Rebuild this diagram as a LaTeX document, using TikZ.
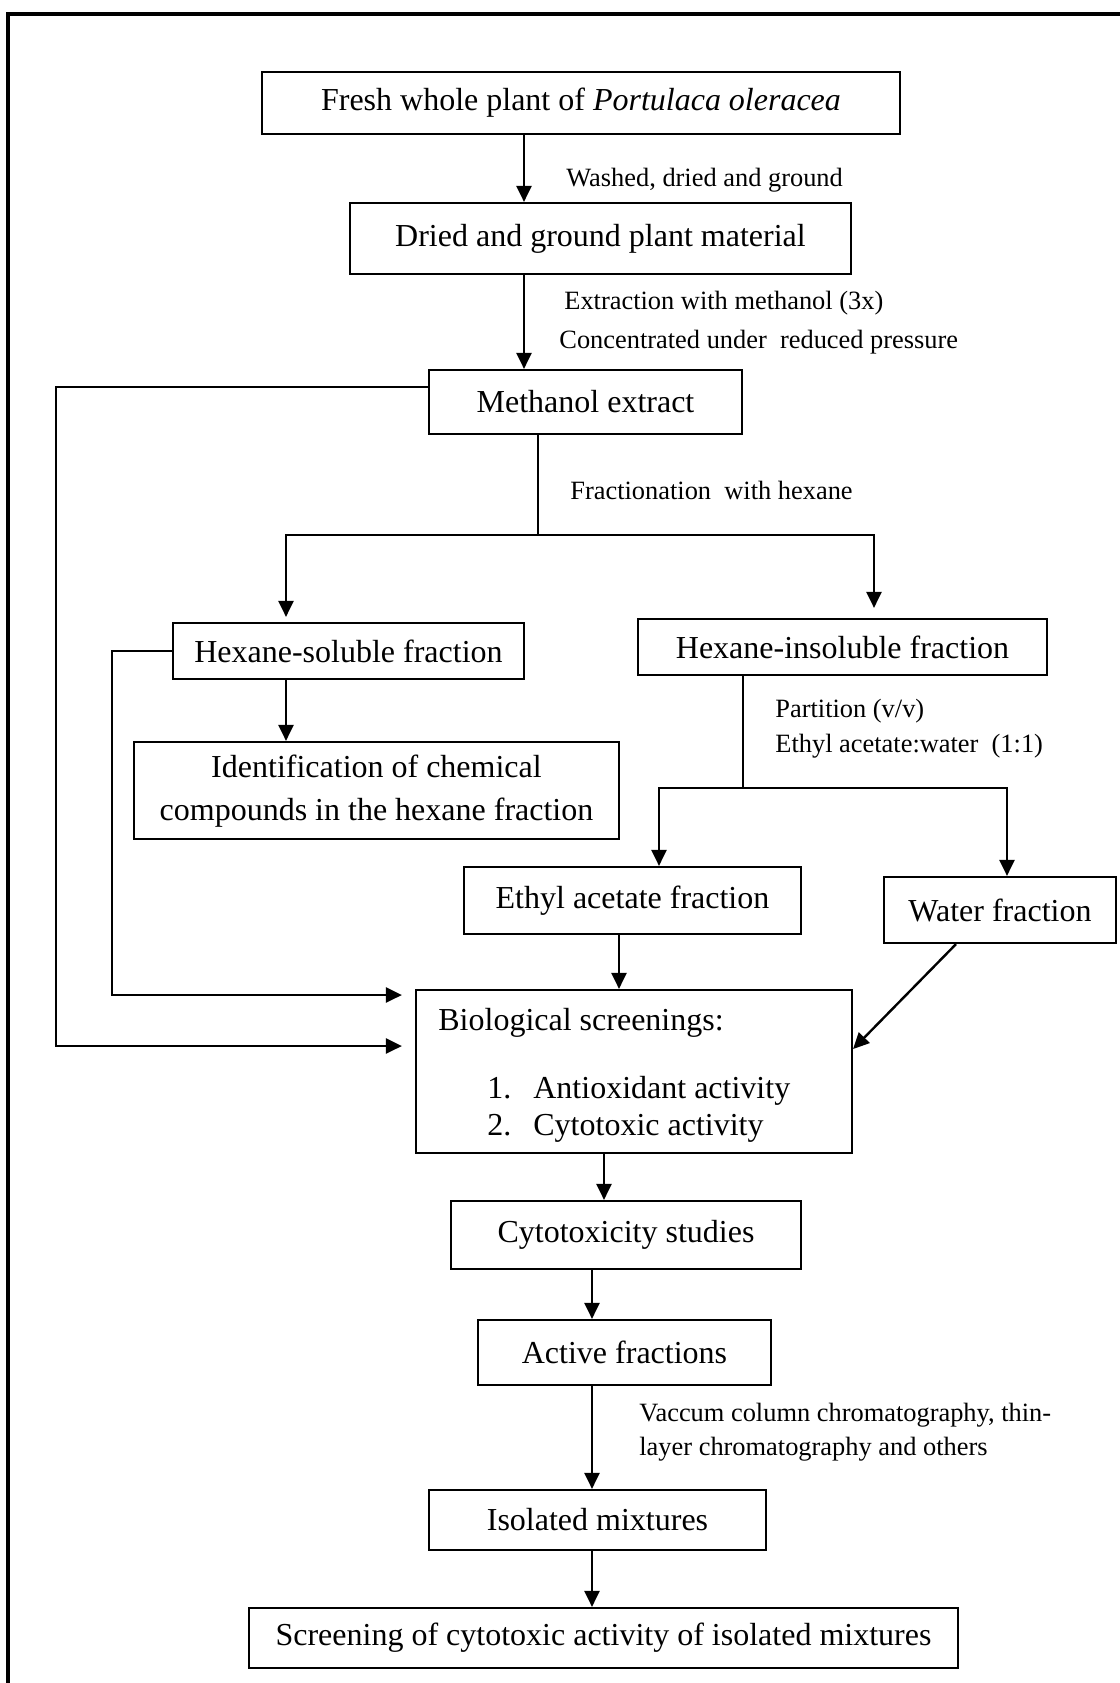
\documentclass[tikz,border=0pt]{standalone}
\usepackage{fontspec}
\setmainfont{Liberation Serif}
\usetikzlibrary{arrows.meta}

\tikzset{
  box/.style={draw, line width=1.1pt, inner sep=0pt, align=center, font=\fontsize{16}{21.5}\selectfont},
  boxtext/.style={anchor=base west, inner sep=0pt, font=\fontsize{16}{19}\selectfont},
  note/.style={anchor=base west, inner sep=0pt, font=\fontsize{13.2}{16}\selectfont},
  arr/.style={line width=1.2pt, -{Triangle[length=8pt,width=7.5pt]}},
  link/.style={line width=1.2pt},
  thinlink/.style={line width=0.7pt}
}

\begin{document}
\begin{tikzpicture}[x=0.5pt, y=-0.5pt]
  \useasboundingbox (0,0) rectangle (1120,1683);
  % page frame
  \draw[line width=1.6pt] (1120,14) -- (8,14) -- (8,1683);

  % boxes
  \node[box, minimum width=319pt, minimum height=31pt] (fresh) at (581,103) {Fresh whole plant of \textit{Portulaca oleracea}};
  \node[box, minimum width=250.5pt, minimum height=35.5pt] (dried) at (600.5,238.5) {Dried and ground plant material};
  \node[box, minimum width=156.5pt, minimum height=32pt] (methanol) at (585.5,402) {Methanol extract};
  \node[box, minimum width=175.5pt, minimum height=28pt] (hexsol) at (348.5,651) {Hexane-soluble fraction};
  \node[box, minimum width=204.5pt, minimum height=28pt] (hexinsol) at (842.5,647) {Hexane-insoluble fraction};
  \node[box, minimum width=242.5pt, minimum height=48.5pt] (ident) at (376.5,790.5) {\rule{0pt}{12pt}Identification of chemical\\compounds in the hexane fraction};
  \node[box, minimum width=168.5pt, minimum height=33.5pt] (ethyl) at (632.5,900.5) {Ethyl acetate fraction};
  \node[box, minimum width=116pt, minimum height=33pt] (water) at (1000,910) {Water fraction};
  \node[box, minimum width=218pt, minimum height=81.5pt] (bio) at (634,1071.5) {};
  \node[box, minimum width=175pt, minimum height=34pt] (cyto) at (626,1235) {Cytotoxicity studies};
  \node[box, minimum width=146.5pt, minimum height=32.5pt] (active) at (624.5,1352.5) {Active fractions};
  \node[box, minimum width=168.5pt, minimum height=30pt] (isolated) at (597.5,1520) {Isolated mixtures};
  \node[box, minimum width=354.5pt, minimum height=30pt] (screening) at (603.5,1638) {Screening of cytotoxic activity of isolated mixtures};

  % text inside the screening box
  \node[boxtext] (biohead) at (438,1030) {Biological screenings:};
  \node[boxtext] (bioitemA) at (487,1098) {\makebox[23pt][l]{1.}Antioxidant activity};
  \node[boxtext] (bioitemB) at (487,1135) {\makebox[23pt][l]{2.}Cytotoxic activity};

  % step labels
  \node[note] (washed) at (566,186) {Washed, dried and ground};
  \node[note] (extraction) at (564,309) {Extraction with methanol (3x)};
  \node[note] (concentrated) at (559,348) {Concentrated under\ \ reduced pressure};
  \node[note] (fractionation) at (570,499) {Fractionation\ \ with hexane};
  \node[note] (partition) at (775,717) {Partition (v/v)};
  \node[note] (ratio) at (775,752) {Ethyl acetate:water\ \ (1:1)};
  \node[note] (vaccum) at (639,1421) {Vaccum column chromatography, thin-};
  \node[note] (vaccumB) at (639,1455) {layer chromatography and others};

  % columns and rows the connectors run along
  \coordinate (colA) at (524,0);
  \coordinate (colL) at (286,0);
  \coordinate (colR) at (874,0);
  \coordinate (colD) at (659,0);
  \coordinate (colE) at (1007,0);
  \coordinate (colF) at (619,0);
  \coordinate (colG) at (956,0);
  \coordinate (colH) at (604,0);
  \coordinate (colI) at (592,0);
  \coordinate (splitA) at (538,535);
  \coordinate (splitB) at (743,788);
  \coordinate (rowM) at (0,387);
  \coordinate (rowH) at (0,995);
  \coordinate (rowB) at (0,1046);
  \coordinate (rowW) at (0,1049);
  \coordinate (outerM) at (56,1046);
  \coordinate (outerH) at (112,995);

  % main column
  \draw[arr] (fresh.south -| colA) -- (dried.north -| colA);
  \draw[arr] (dried.south -| colA) -- (methanol.north -| colA);

  % split with hexane
  \draw[thinlink] (methanol.south -| splitA) -- (splitA);
  \draw[arr, shorten >=2.5pt] (splitA) -| (hexsol.north -| colL);
  \draw[arr, shorten >=5pt] (splitA) -| (hexinsol.north -| colR);
  \draw[arr] (hexsol.south -| colL) -- (ident.north -| colL);

  % partition
  \draw[thinlink] (hexinsol.south -| splitB) -- (splitB);
  \draw[arr] (splitB) -| (ethyl.north -| colD);
  \draw[arr] (splitB) -| (water.north -| colE);

  % into the screenings
  \draw[arr, shorten >=6.5pt] (methanol.west |- rowM) -| (outerM) -- (bio.west |- rowB);
  \draw[arr, shorten >=6.5pt] (hexsol.west) -| (outerH) -- (bio.west |- rowH);
  \draw[arr] (ethyl.south -| colF) -- (bio.north -| colF);
  \draw[arr] (water.south -| colG) -- (bio.east |- rowW);

  % lower column
  \draw[arr] (bio.south -| colH) -- (cyto.north -| colH);
  \draw[arr] (cyto.south -| colI) -- (active.north -| colI);
  \draw[arr] (active.south -| colI) -- (isolated.north -| colI);
  \draw[arr] (isolated.south -| colI) -- (screening.north -| colI);
\end{tikzpicture}
\end{document}
